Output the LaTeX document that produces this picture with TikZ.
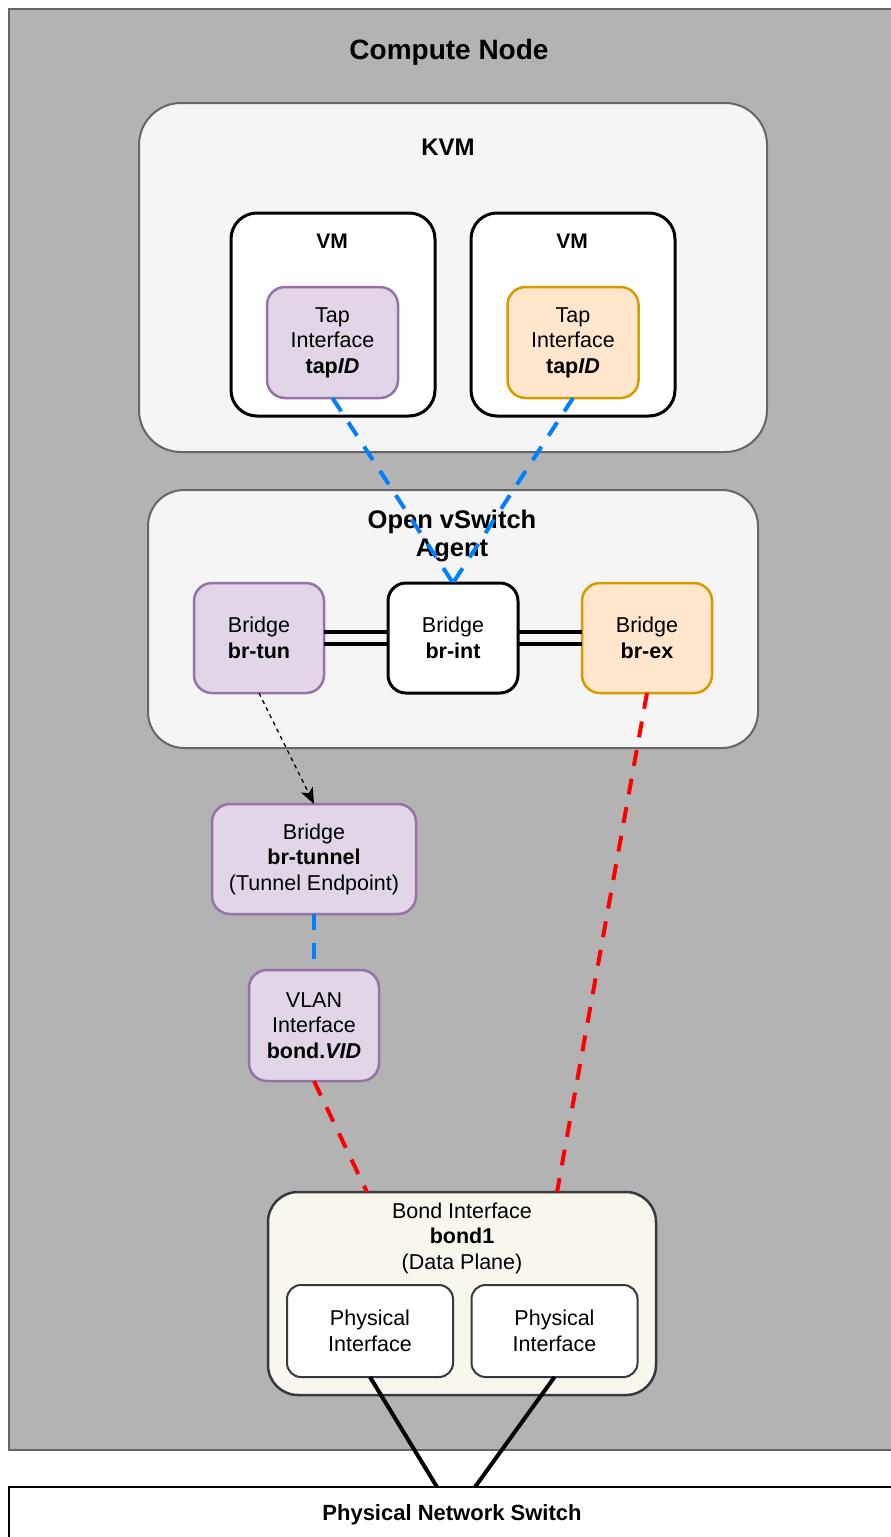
\documentclass[tikz,border=0pt]{standalone}
\usepackage{fontspec}
\setmainfont{Liberation Sans}
\usetikzlibrary{arrows.meta,calc}
\definecolor{cnfill}{HTML}{B3B3B3}
\definecolor{cnline}{HTML}{666666}
\definecolor{panelfill}{HTML}{F5F5F5}
\definecolor{purfill}{HTML}{E1D5E7}
\definecolor{purline}{HTML}{9673A6}
\definecolor{orfill}{HTML}{FFE6CC}
\definecolor{orline}{HTML}{D79B00}
\definecolor{bondfill}{HTML}{F9F7ED}
\definecolor{darkline}{HTML}{36393D}
\definecolor{blueln}{HTML}{007FFF}
\definecolor{redln}{HTML}{FF0000}
\begin{document}
\begin{tikzpicture}[x=1pt,y=-1pt,
  every node/.style={inner sep=0pt, outer sep=0pt},
  body/.style={font=\fontsize{21.5}{25.5}\selectfont, align=center},
  panel/.style={draw=cnline, fill=panelfill, line width=2pt, rounded corners=#1},
  vmbox/.style={draw=black, fill=white, line width=3pt, rounded corners=26pt},
  purbox/.style={body, draw=purline, fill=purfill, line width=2.5pt, rounded corners=18pt},
  orbox/.style={body, draw=orline, fill=orfill, line width=2.5pt, rounded corners=18pt},
  whitebox/.style={body, draw=black, fill=white, line width=3pt, rounded corners=18pt},
  physbox/.style={body, draw=darkline, fill=white, line width=2pt, rounded corners=14pt},
  bluedash/.style={draw=blueln, line width=4pt, dash pattern=on 16pt off 13pt},
  reddash/.style={draw=redln, line width=4pt, dash pattern=on 16pt off 13pt},
  link/.style={draw=black, line width=4.5pt},
  wire/.style={draw=black, line width=4pt}
]
\useasboundingbox (0,0) rectangle (891,1537);
\clip (0,0) rectangle (891,1537);
\fill[white] (0,0) rectangle (891,1537);

% Compute node container
\node[draw=cnline, fill=cnfill, line width=2pt, minimum width=886pt, minimum height=1441pt] (compute) at (452,729.5) {};
\node[font=\fontsize{28}{32}\selectfont\bfseries] (computetitle) at (449,52) {Compute Node};

% Physical switch
\node[draw=black, fill=white, line width=2pt, minimum width=886pt, minimum height=58pt] (switch) at (452,1516) {};
\node[font=\fontsize{22}{26}\selectfont\bfseries] (switchtitle) at (452,1515) {Physical Network Switch};

% KVM
\node[panel=42pt, minimum width=628pt, minimum height=349pt] (kvm) at (453,277.5) {};
\node[font=\fontsize{24}{28}\selectfont\bfseries] (kvmtitle) at (448,147) {KVM};

\node[vmbox, minimum width=204pt, minimum height=203pt] (vml) at (333,314.5) {};
\node[font=\fontsize{21}{25}\selectfont\bfseries] (vmltitle) at (332,241) {VM};
\node[vmbox, minimum width=204pt, minimum height=203pt] (vmr) at (573,314.5) {};
\node[font=\fontsize{21}{25}\selectfont\bfseries] (vmrtitle) at (572,241) {VM};

\node[purbox, minimum width=131pt, minimum height=111pt] (tapl) at (332.5,342.5) {Tap\\Interface\\\textbf{tap\textit{ID}}};
\node[orbox, minimum width=131pt, minimum height=111pt] (tapr) at (573,342.5) {Tap\\Interface\\\textbf{tap\textit{ID}}};

% OVS agent
\node[panel=36pt, minimum width=610pt, minimum height=258pt] (ovs) at (453,619) {};
\node[font=\fontsize{25.5}{28.5}\selectfont\bfseries, align=center] (ovstitle) at (452,536) {Open vSwitch\\Agent};

\node[purbox, minimum width=130pt, minimum height=110pt] (brtun) at (259,638) {Bridge\\\textbf{br-tun}};
\node[whitebox, minimum width=130pt, minimum height=110pt] (brint) at (453,638) {Bridge\\\textbf{br-int}};
\node[orbox, minimum width=130pt, minimum height=110pt] (brex) at (647,638) {Bridge\\\textbf{br-ex}};

\draw[link] ([yshift=6pt]brtun.east) -- ([yshift=6pt]brint.west);
\draw[link] ([yshift=-6pt]brtun.east) -- ([yshift=-6pt]brint.west);
\draw[link] ([yshift=6pt]brint.east) -- ([yshift=6pt]brex.west);
\draw[link] ([yshift=-6pt]brint.east) -- ([yshift=-6pt]brex.west);

% tunnel / vlan
\node[purbox, minimum width=204pt, minimum height=110pt] (brtunnel) at (314,859) {Bridge\\\textbf{br-tunnel}\\(Tunnel Endpoint)};
\node[purbox, minimum width=130pt, minimum height=111pt] (vlan) at (314,1025.5) {VLAN\\Interface\\\textbf{bond.\textit{VID}}};

% Bond
\node[draw=darkline, fill=bondfill, line width=2.5pt, rounded corners=30pt, minimum width=388pt, minimum height=203pt] (bond) at (462,1293.5) {};
\node[body] (bondtitle) at (462,1238) {Bond Interface\\\textbf{bond1}\\(Data Plane)};
\node[physbox, minimum width=166pt, minimum height=92pt] (physl) at (370,1331) {Physical\\Interface};
\node[physbox, minimum width=166pt, minimum height=92pt] (physr) at (554.5,1331) {Physical\\Interface};

% connectors
\draw[bluedash] (tapl.south) -- (brint.north);
\draw[bluedash] (tapr.south) -- (brint.north);
\draw[black, line width=1.3pt, dash pattern=on 4pt off 4pt, -{Stealth[length=16pt,width=13pt,inset=4pt]}] (brtun.south) -- (brtunnel.north);
\draw[bluedash] (brtunnel.south) -- (vlan.north);
\draw[reddash] (vlan.south) -- ($(bond.north west)!0.255!(bond.north east)$);
\draw[reddash] (brex.south) -- ($(bond.north west)!0.745!(bond.north east)$);
\draw[wire] (physl.south) -- ([xshift=-15pt]switch.north);
\draw[wire] (physr.south) -- ([xshift=23pt]switch.north);
\end{tikzpicture}
\end{document}
